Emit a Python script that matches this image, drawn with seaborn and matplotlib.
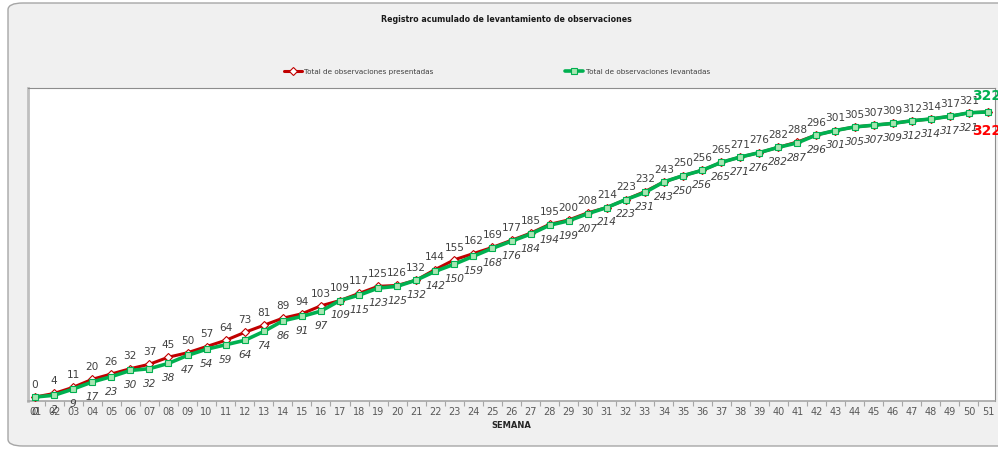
import matplotlib
matplotlib.use("Agg")
import matplotlib.pyplot as plt
from matplotlib.patches import FancyBboxPatch
from matplotlib.lines import Line2D
from matplotlib.ticker import FixedLocator
import seaborn as sns
import pandas as pd

weeks = [f"{i:02d}" for i in range(1, 52)]
presentadas = [0, 4, 11, 20, 26, 32, 37, 45, 50, 57, 64, 73, 81, 89, 94, 103, 109, 117,
               125, 126, 132, 144, 155, 162, 169, 177, 185, 195, 200, 208, 214, 223, 232,
               243, 250, 256, 265, 271, 276, 282, 288, 296, 301, 305, 307, 309, 312, 314,
               317, 321, 322]
levantadas = [0, 2, 9, 17, 23, 30, 32, 38, 47, 54, 59, 64, 74, 86, 91, 97, 109, 115,
              123, 125, 132, 142, 150, 159, 168, 176, 184, 194, 199, 207, 214, 223, 231,
              243, 250, 256, 265, 271, 276, 282, 287, 296, 301, 305, 307, 309, 312, 314,
              317, 321, 322]
title = "Registro acumulado de levantamiento de observaciones"
name_p = "Total de observaciones presentadas"
name_l = "Total de observaciones levantadas"

sns.set_theme(style="white")
plt.rcParams['font.family'] = ['DejaVu Sans']

RED = "#c00000"
GREEN = "#00b050"
LBL = "#404040"

fig = plt.figure(figsize=(9.98, 4.52), dpi=100, facecolor="white")
bg = FancyBboxPatch((8/998, 5/452), 1.2, 443/452, boxstyle="round,pad=0,rounding_size=0.015",
                    transform=fig.transFigure, facecolor="#f0f0f0", edgecolor="#a6a6a6",
                    linewidth=1.0, zorder=-10)
fig.patches.append(bg)

ax = fig.add_axes([28/998, 1 - 402/452, 967/998, (402 - 89)/452])
ax.set_facecolor("white")

df = pd.DataFrame({"Semana": weeks, "presentadas": presentadas, "levantadas": levantadas})

sns.lineplot(data=df, x="Semana", y="presentadas", ax=ax, color=RED, linewidth=2.2,
             marker="D", markersize=3.6, markerfacecolor="white", markeredgecolor=RED,
             markeredgewidth=0.8, sort=False, zorder=3)
sns.lineplot(data=df, x="Semana", y="levantadas", ax=ax, color=GREEN, linewidth=2.6,
             marker="s", markersize=4.8, markerfacecolor="#a8e6b2", markeredgecolor=GREEN,
             markeredgewidth=0.8, sort=False, zorder=4)

n = len(weeks)
for i, v in enumerate(presentadas):
    if i == n - 1:
        ax.annotate(str(v), (i, v), xytext=(-1, -13), textcoords="offset points",
                    ha="center", va="center", fontsize=10, fontweight="bold",
                    color="#ff0000", annotation_clip=False, zorder=6)
    else:
        ax.annotate(str(v), (i, v), xytext=(0, 9.5), textcoords="offset points",
                    ha="center", va="center", fontsize=7.6, color=LBL, zorder=6)
for i, v in enumerate(levantadas):
    if i == n - 1:
        ax.annotate(str(v), (i, v), xytext=(-1, 12), textcoords="offset points",
                    ha="center", va="center", fontsize=10, fontweight="bold",
                    color=GREEN, annotation_clip=False, zorder=6)
    else:
        ax.annotate(str(v), (i, v), xytext=(0, -10), textcoords="offset points",
                    ha="center", va="center", fontsize=7.6, color=LBL, style="italic",
                    annotation_clip=False, zorder=6)

ax.set_xlim(-0.37, n - 1 + 0.37)
ax.set_ylim(-4.5, 349)
ax.set_yticks([])
ax.set_ylabel("")
ax.set_xlabel("SEMANA", fontsize=6, fontweight="bold", color="#262626", labelpad=3)

ax.tick_params(axis="x", which="major", length=0, pad=3.5, labelsize=7, labelcolor="#595959")
ax.xaxis.set_minor_locator(FixedLocator([k + 0.5 for k in range(-1, n)]))
ax.tick_params(axis="x", which="minor", length=3.5, width=0.8, color="#a6a6a6",
               direction="out", bottom=True)

for side, sp in ax.spines.items():
    sp.set_visible(True)
ax.spines["left"].set_color("#bfbfbf")
ax.spines["left"].set_linewidth(2.0)
ax.spines["bottom"].set_color("#a6a6a6")
ax.spines["bottom"].set_linewidth(1.2)
ax.spines["top"].set_color("#8c8c8c")
ax.spines["top"].set_linewidth(0.8)
ax.spines["right"].set_color("#8c8c8c")
ax.spines["right"].set_linewidth(0.8)

fig.text(506/998, 1 - 19/452, title, ha="center", va="center", fontsize=5.7,
         fontweight="bold", color="#1a1a1a")

handles = [
    Line2D([], [], color=RED, linewidth=2.2, marker="D", markersize=3.6,
           markerfacecolor="white", markeredgecolor=RED, markeredgewidth=0.8),
    Line2D([], [], color=GREEN, linewidth=2.6, marker="s", markersize=4.8,
           markerfacecolor="#a8e6b2", markeredgecolor=GREEN, markeredgewidth=0.8),
]
fig.legend(handles, [name_p, name_l], loc="center", bbox_to_anchor=(497/998, 1 - 72/452),
           ncol=2, frameon=False, fontsize=5.2, handlelength=2.4, handletextpad=0.4,
           columnspacing=18.2, labelcolor="#404040")

fig.savefig("out.png", dpi=100, facecolor=fig.get_facecolor())
